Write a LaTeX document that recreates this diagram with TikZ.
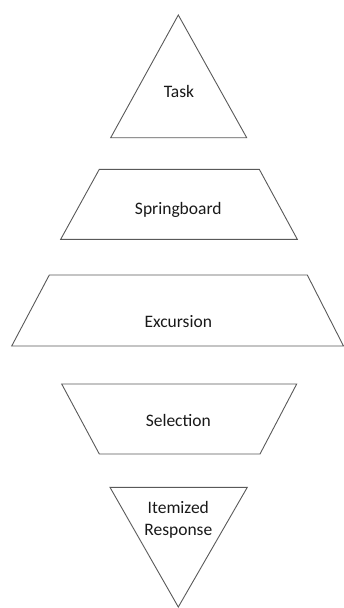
\documentclass[tikz,border=0pt]{standalone}
\usepackage{fontspec}
\setmainfont{Carlito}
\begin{document}
\begin{tikzpicture}[x=1pt,y=-1pt,
  shapeline/.style={draw=black!65, line width=0.9pt, line join=miter},
  lbl/.style={font=\fontsize{17.5}{22}\selectfont, text=black!90, align=center}]
\useasboundingbox (0,0) rectangle (344,608);
% Task
\draw[shapeline] (178.3,15) -- (246.7,137.7) -- (110.7,137.7) -- cycle;
\node[lbl] (task) at (179,91) {Task};
% Springboard
\draw[shapeline] (99.3,169.3) -- (259.3,169.3) -- (297.3,239.3) -- (60.7,239.3) -- cycle;
\node[lbl] (spring) at (178.3,210) {Springboard};
% Excursion
\draw[shapeline] (49.3,275) -- (307.3,275) -- (343.5,346) -- (11.7,346) -- cycle;
\node[lbl] (exc) at (178.3,321.7) {Excursion};
% Selection
\draw[shapeline] (61.7,384) -- (296.7,384) -- (260,454) -- (99.3,454) -- cycle;
\node[lbl] (sel) at (178.3,420.7) {Selection};
% Itemized Response
\draw[shapeline] (110,487.3) -- (247.3,487.3) -- (178.3,607) -- cycle;
\node[lbl] (item) at (178.3,519.5) {Itemized\\Response};
\end{tikzpicture}
\end{document}
